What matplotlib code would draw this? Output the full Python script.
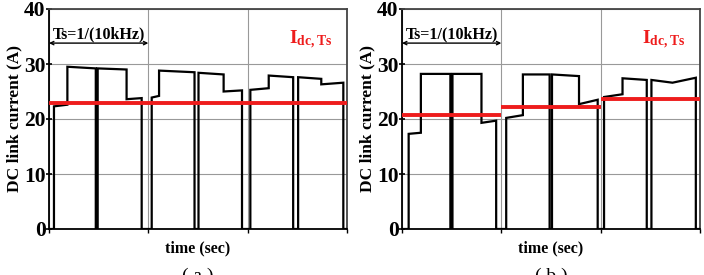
import matplotlib.pyplot as plt

# time in microseconds (Ts = 100 us), current in A
t_a = [0, 5.0, 5.0, 18.5, 18.5, 47.1, 47.1, 49.0, 49.0, 78.1, 78.1, 93.3, 93.3,
       103.4, 103.4, 110.8, 110.8, 146.5, 146.5, 150.5, 150.5, 175.8, 175.8, 194.3, 194.3,
       202.7, 202.7, 221.2, 221.2, 245.8, 245.8, 250.8, 250.8, 274.1, 274.1, 296.3, 296.3, 300]
i_a = [0, 0, 22.3, 22.6, 29.5, 29.2, 0, 0, 29.2, 29.0, 23.6, 23.8, 0,
       0, 23.9, 24.2, 28.8, 28.5, 0, 0, 28.4, 28.1, 25.0, 25.2, 0,
       0, 25.3, 25.6, 27.9, 27.6, 0, 0, 27.6, 27.3, 26.3, 26.6, 0, 0]
avg_a = [23.0, 23.0, 23.0]

t_b = [0, 6.7, 6.7, 19.0, 19.0, 48.7, 48.7, 50.8, 50.8, 80.0, 80.0, 94.8, 94.8,
       104.9, 104.9, 121.7, 121.7, 148.6, 148.6, 151.0, 151.0, 178.2, 178.2, 197.0, 197.0,
       203.4, 203.4, 222.0, 222.0, 246.4, 246.4, 251.1, 251.1, 272.3, 295.8, 295.8, 300]
i_b = [0, 0, 17.3, 17.5, 28.2, 28.2, 0, 0, 28.2, 28.2, 19.3, 19.7, 0,
       0, 20.2, 20.7, 28.1, 28.1, 0, 0, 28.1, 27.8, 22.7, 23.5, 0,
       0, 24.0, 24.5, 27.4, 27.1, 0, 0, 27.1, 26.6, 27.5, 0, 0]
avg_b = [20.8, 22.2, 23.7]

Ts = 100
font = 'Liberation Serif'
plt.rcParams['mathtext.fontset'] = 'custom'
plt.rcParams['mathtext.bf'] = 'Liberation Serif:bold'
plt.rcParams['mathtext.rm'] = 'Liberation Serif'

fig = plt.figure(figsize=(7.04, 2.75), dpi=100)
axes = [fig.add_axes([49 / 704, 46 / 275, 298 / 704, 220 / 275]),
        fig.add_axes([402 / 704, 46 / 275, 298 / 704, 220 / 275])]

for ax, t, i, avg, tag in zip(axes, [t_a, t_b], [i_a, i_b], [avg_a, avg_b], ['( a )', '( b )']):
    ax.plot(t, i, color='black', lw=1.6, solid_joinstyle='miter', zorder=3)
    for k, v in enumerate(avg):
        ax.plot([k * Ts, (k + 1) * Ts], [v, v], color='#ee1c1c', lw=2.8, zorder=4,
                solid_capstyle='butt')
    ax.set_xlim(0, 300)
    ax.set_ylim(0, 40)
    ax.set_yticks([0, 10, 20, 30, 40])
    ax.set_xticks([0, 100, 200, 300])
    ax.set_xticklabels([])
    ax.grid(True, color='#999999', lw=0.8)
    ax.tick_params(axis='y', direction='inout', length=5, width=1.2, pad=0)
    ax.tick_params(axis='x', direction='out', length=3, width=1.0)
    for lab in ax.get_yticklabels():
        lab.set_fontfamily(font)
        lab.set_fontweight('bold')
        lab.set_fontsize(15.5)
    for sp in ax.spines.values():
        sp.set_linewidth(1.3)
    ax.spines['top'].set_color('#444444')
    ax.spines['right'].set_color('#444444')
    ax.set_ylabel('DC link current (A)', fontfamily=font, fontweight='bold', fontsize=12.5, labelpad=1)
    ax.set_xlabel('time (sec)', fontfamily=font, fontweight='bold', fontsize=11.5, labelpad=2)
    ax.annotate('', xy=(0, 33.8), xytext=(Ts, 33.8),
                arrowprops=dict(arrowstyle='<->', color='black', lw=1.0, shrinkA=0, shrinkB=0,
                                mutation_scale=6))
    ax.text(Ts / 2, 33.9, 'Ts=1/(10kHz)', ha='center', va='bottom', fontfamily=font,
            fontweight='bold', fontsize=11.5)
    ax.text(242, 34.5, r'$\mathbf{I_{dc,Ts}}$', color='#ee1c1c', ha='left', va='center',
            fontsize=14)
    box = ax.get_position()
    fig.text(box.x0 + box.width / 2, 0.028, tag, ha='center', va='top',
             fontfamily=font, fontsize=14)

fig.savefig('out.png', dpi=100)
